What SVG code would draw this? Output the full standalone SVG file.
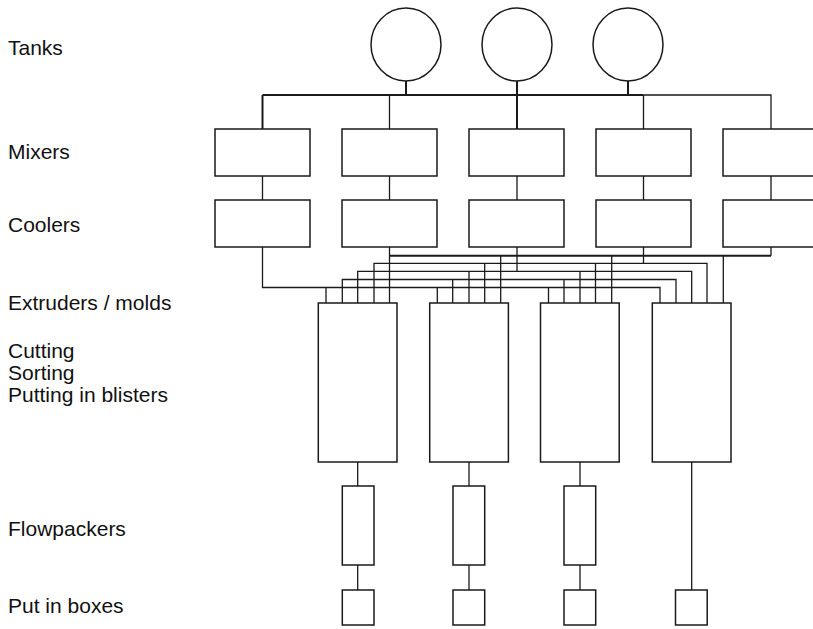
<svg xmlns="http://www.w3.org/2000/svg" width="813" height="629" viewBox="0 0 813 629">
<style>
.n{fill:#fff;stroke:#1a1a1a;stroke-width:1.5}
.c{fill:none;stroke:#1a1a1a;stroke-width:1.3}
.t{stroke-width:2}
.l{font-family:"Liberation Sans",Arial,sans-serif;font-size:21px;fill:#111}
</style>
<rect width="813" height="629" fill="#fff"/>
<g id="labels">
<text class="l" x="8" y="55">Tanks</text>
<text class="l" x="8" y="159">Mixers</text>
<text class="l" x="8" y="232">Coolers</text>
<text class="l" x="8" y="310">Extruders / molds</text>
<text class="l" x="8" y="358">Cutting</text>
<text class="l" x="8" y="380">Sorting</text>
<text class="l" x="8" y="402">Putting in blisters</text>
<text class="l" x="8" y="536">Flowpackers</text>
<text class="l" x="8" y="613">Put in boxes</text>
</g>
<g id="connectors">
<path class="c t" d="M262.5,95H643M262.5,95V129M517,95V129M406,81V95M517,81V95M628,81V95"/>
<path class="c" d="M643,95H771V129M389.5,95V129M643.5,95V129"/>
<path class="c" d="M262.5,176V200M389.5,176V200M517,176V200M643.5,176V200M771,176V200"/>
<path class="c" d="M262.5,247V287.5H660V303M326,287.5V303M437.3,287.5V303M548.5,287.5V303"/>
<path class="c" d="M342.3,303V279.5H676V303M452.7,279.5V303M564,279.5V303"/>
<path class="c" d="M517,247V271.3M357.7,303V271.3H691.7V303M469,271.3V303M580,271.3V303"/>
<path class="c" d="M643.5,247V263.3M374,303V263.3H707V303M484.7,263.3V303M595.5,263.3V303"/>
<path class="c" d="M389.5,247V303M771,247V255.7M500.7,255.7V303M611.7,255.7V303M723.3,255.7V303"/>
<path class="c t" d="M389.5,255.7H771"/>
<path class="c" d="M357.7,462V486M469,462V486M580,462V486M691.7,462V590M357.7,565V590M469,565V590M580,565V590"/>
</g>
<g id="tank1"><ellipse class="n" cx="406" cy="44.5" rx="35" ry="36.5"/></g>
<g id="tank2"><ellipse class="n" cx="517" cy="44.5" rx="35" ry="36.5"/></g>
<g id="tank3"><ellipse class="n" cx="628" cy="44.5" rx="35" ry="36.5"/></g>
<g id="mixer1"><rect class="n" x="215" y="129" width="95" height="47"/></g>
<g id="mixer2"><rect class="n" x="342" y="129" width="95" height="47"/></g>
<g id="mixer3"><rect class="n" x="469" y="129" width="95" height="47"/></g>
<g id="mixer4"><rect class="n" x="596" y="129" width="95" height="47"/></g>
<g id="mixer5"><rect class="n" x="723" y="129" width="95" height="47"/></g>
<g id="cooler1"><rect class="n" x="215" y="200" width="95" height="47"/></g>
<g id="cooler2"><rect class="n" x="342" y="200" width="95" height="47"/></g>
<g id="cooler3"><rect class="n" x="469" y="200" width="95" height="47"/></g>
<g id="cooler4"><rect class="n" x="596" y="200" width="95" height="47"/></g>
<g id="cooler5"><rect class="n" x="723" y="200" width="95" height="47"/></g>
<g id="extruder1"><rect class="n" x="318.3" y="303" width="78.7" height="159"/></g>
<g id="extruder2"><rect class="n" x="429.7" y="303" width="78.7" height="159"/></g>
<g id="extruder3"><rect class="n" x="540.5" y="303" width="78.7" height="159"/></g>
<g id="extruder4"><rect class="n" x="652.3" y="303" width="78.7" height="159"/></g>
<g id="flowpacker1"><rect class="n" x="342.3" y="486" width="31.7" height="79"/></g>
<g id="flowpacker2"><rect class="n" x="453" y="486" width="31.7" height="79"/></g>
<g id="flowpacker3"><rect class="n" x="564" y="486" width="31.7" height="79"/></g>
<g id="box1"><rect class="n" x="342.3" y="590" width="31.7" height="35"/></g>
<g id="box2"><rect class="n" x="453" y="590" width="31.7" height="35"/></g>
<g id="box3"><rect class="n" x="564" y="590" width="31.7" height="35"/></g>
<g id="box4"><rect class="n" x="675.5" y="590" width="31.7" height="35"/></g>
</svg>
